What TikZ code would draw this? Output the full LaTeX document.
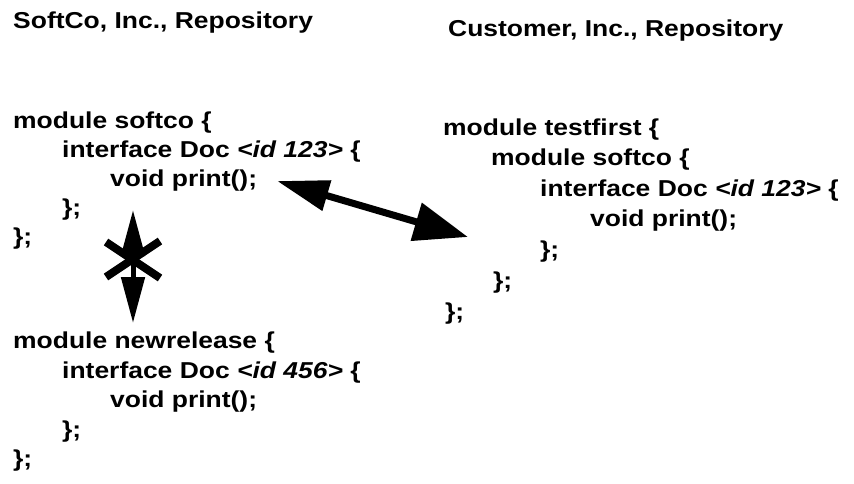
\documentclass[tikz,border=0pt]{standalone}
\usepackage{fontspec}
\setmainfont{Liberation Sans}
\newfontfamily\codefont[FakeStretch=1.15]{Liberation Sans}
\usetikzlibrary{arrows.meta}
\begin{document}
\begin{tikzpicture}[x=1pt,y=-1pt,
  code/.style={anchor=base west,inner sep=0pt,font=\codefont\fontsize{23}{23}\selectfont\bfseries},
  bigarrow/.style={line width=7pt,{Triangle[length=52pt,width=30pt]}-{Triangle[length=54pt,width=38pt]}},
  vertarrow/.style={line width=5pt,{Triangle[length=46pt,width=23pt]}-{Triangle[length=46pt,width=23pt]}},
  crossline/.style={line width=8pt}]
\useasboundingbox (0,0) rectangle (854,483);
% headers
\node[code] (h1) at (13,28) {SoftCo, Inc., Repository};
\node[code] (h2) at (448,36) {Customer, Inc., Repository};
% left upper block
\node[code] (l1) at (13,128) {module softco \{};
\node[code] (l2) at (62,157) {interface Doc \textit{<id 123>} \{};
\node[code] (l3) at (110,186) {void print();};
\node[code] (l4) at (62,215) {\};};
\node[code] (l5) at (13,244) {\};};
% left lower block
\node[code] (n1) at (13,348) {module newrelease \{};
\node[code] (n2) at (62,378) {interface Doc \textit{<id 456>} \{};
\node[code] (n3) at (110,407) {void print();};
\node[code] (n4) at (62,437) {\};};
\node[code] (n5) at (13,466) {\};};
% right block
\node[code] (r1) at (443,135) {module testfirst \{};
\node[code] (r2) at (491,165.5) {module softco \{};
\node[code] (r3) at (540,196) {interface Doc \textit{<id 123>} \{};
\node[code] (r4) at (590,226.5) {void print();};
\node[code] (r5) at (540,257) {\};};
\node[code] (r6) at (493,288) {\};};
\node[code] (r7) at (445,319) {\};};
% arrow ends
\coordinate (a1) at (277,181);
\coordinate (a2) at (468,237);
\coordinate (v1) at (133,210);
\coordinate (v2) at (133,323);
\coordinate (x1) at (106,242);
\coordinate (x2) at (160,278);
\coordinate (x3) at (160,241);
\coordinate (x4) at (106,277);
\draw[bigarrow] (a1) -- (a2);
\draw[vertarrow] (v1) -- (v2);
\draw[crossline] (x1) -- (x2);
\draw[crossline] (x3) -- (x4);
\end{tikzpicture}
\end{document}
